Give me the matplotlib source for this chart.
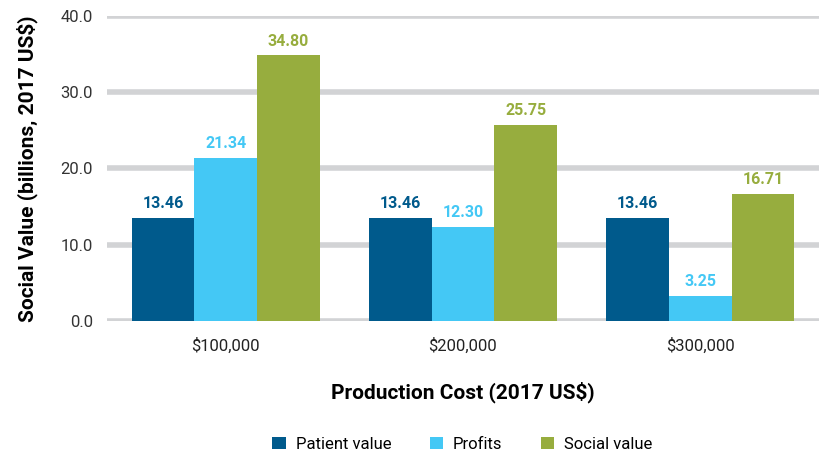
import numpy as np
import matplotlib.pyplot as plt
from matplotlib.patches import Patch

categories = ["$100,000", "$200,000", "$300,000"]
series_names = ["Patient value", "Profits", "Social value"]
patient_value = [13.46, 13.46, 13.46]
profits = [21.34, 12.30, 3.25]
social_value = [34.80, 25.75, 16.71]
y_ticks = [0, 10, 20, 30, 40]

colors = ["#005a8c", "#44c8f5", "#97ad3e"]

plt.rcParams['font.family'] = ['Roboto', 'DejaVu Sans']

fig = plt.figure(figsize=(8.23, 4.51), dpi=100)
ax = fig.add_axes([0.130, 0.288, 0.865, 0.677])

x = np.arange(len(categories))
width = 0.264
for i, (vals, col) in enumerate(zip([patient_value, profits, social_value], colors)):
    pos = x + (i - 1) * width
    ax.bar(pos, vals, width, color=col, zorder=3)
    for px, v in zip(pos, vals):
        ax.text(px, v + 0.9, f"{v:.2f}", ha='center', va='bottom',
                color=col, fontsize=11.5, fontweight='bold')

ax.set_xlim(-0.5, 2.5)
ax.set_ylim(0, 40)
ax.set_yticks(y_ticks)
ax.set_yticklabels([f"{t:.1f}" for t in y_ticks], fontsize=12, color='#333333')
ax.set_xticks(x)
ax.set_xticklabels(categories, fontsize=12, color='#222222')
ax.tick_params(length=0, pad=12)
ax.tick_params(axis='y', pad=10)
ax.grid(axis='y', color='#d2d3d5', linewidth=4, zorder=0)
for s in ax.spines.values():
    s.set_visible(False)

ax.set_ylabel("Social Value (billions, 2017 US$)", fontsize=15, fontweight='bold', labelpad=16)
ax.set_xlabel("Production Cost (2017 US$)", fontsize=15, fontweight='bold', labelpad=20)

handles = [Patch(facecolor=c, label=n) for c, n in zip(colors, series_names)]
fig.legend(handles=handles, loc='lower center', bbox_to_anchor=(0.562, -0.035), ncol=3,
           frameon=False, fontsize=12, handlelength=0.8, handleheight=0.8,
           handletextpad=0.6, columnspacing=2.3)

fig.savefig("out.png", dpi=100)
